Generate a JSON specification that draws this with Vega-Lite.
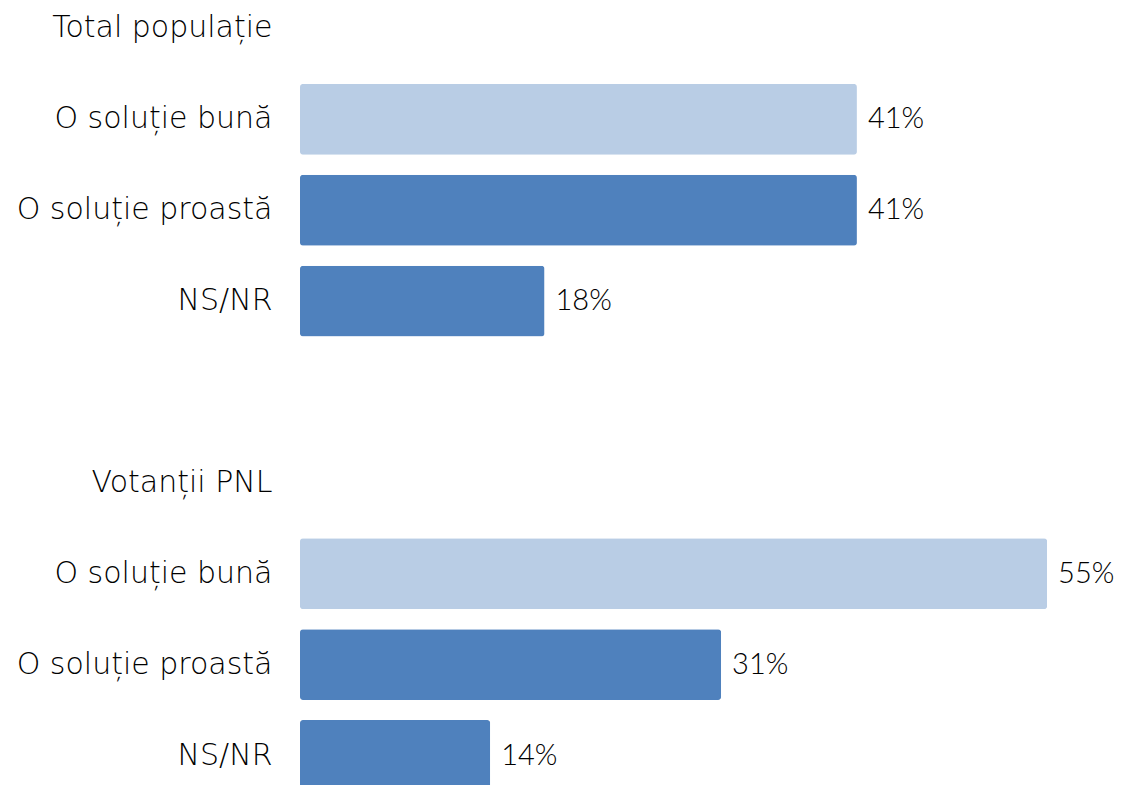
{
  "$schema": "https://vega.github.io/schema/vega-lite/v6.json",
  "autosize": {"type": "none"},
  "padding": {"left": 300, "top": -7, "right": 0, "bottom": 0},
  "width": 815,
  "height": 798,
  "background": "white",
  "config": {"view": {"stroke": null}},
  "data": {
    "values": [
      {"cat": "a|Total populație", "value": null, "grp": "title"},
      {"cat": "b|O soluție bună", "value": 0.41, "grp": "buna"},
      {"cat": "c|O soluție proastă", "value": 0.41, "grp": "alt"},
      {"cat": "d|NS/NR", "value": 0.18, "grp": "alt"},
      {"cat": "e| ", "value": null, "grp": "blank"},
      {"cat": "f|Votanții PNL", "value": null, "grp": "title"},
      {"cat": "g|O soluție bună", "value": 0.55, "grp": "buna"},
      {"cat": "h|O soluție proastă", "value": 0.31, "grp": "alt"},
      {"cat": "i|NS/NR", "value": 0.14, "grp": "alt"}
    ]
  },
  "encoding": {
    "y": {
      "field": "cat",
      "type": "nominal",
      "sort": null,
      "scale": {
        "domain": ["a|Total populație", "b|O soluție bună", "c|O soluție proastă", "d|NS/NR", "e| ", "f|Votanții PNL", "g|O soluție bună", "h|O soluție proastă", "i|NS/NR"],
        "paddingInner": 0.22,
        "paddingOuter": 0
      },
      "axis": {
        "title": null,
        "domain": false,
        "ticks": false,
        "labelPadding": 28,
        "labelLimit": 0,
        "labelFont": "DejaVu Sans",
        "labelFontSize": 30,
        "labelFontWeight": 300,
        "labelColor": "#000000",
        "labelExpr": "split(datum.label, '|')[1]"
      }
    }
  },
  "layer": [
    {
      "mark": {"type": "bar", "cornerRadius": 3},
      "encoding": {
        "x": {"field": "value", "type": "quantitative", "scale": {"domain": [0, 0.6]}, "axis": null},
        "color": {
          "field": "grp",
          "type": "nominal",
          "scale": {"domain": ["buna", "alt"], "range": ["#B9CDE5", "#4F81BD"]},
          "legend": null
        }
      }
    },
    {
      "mark": {"type": "text", "align": "left", "baseline": "middle", "dx": 11, "font": "Lato", "fontWeight": 300, "fontSize": 29, "color": "#000000"},
      "encoding": {
        "x": {"field": "value", "type": "quantitative"},
        "text": {"field": "value", "type": "quantitative", "format": ".0%"}
      }
    }
  ]
}
